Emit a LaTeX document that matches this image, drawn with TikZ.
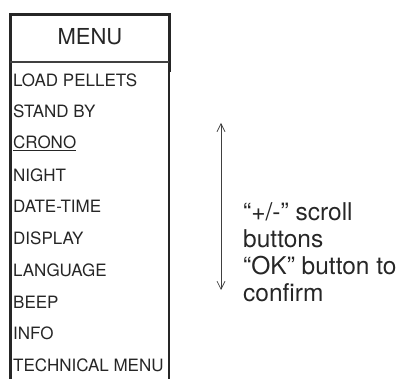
\documentclass[tikz,border=0pt]{standalone}
\usepackage{fontspec}
\setmainfont{TeX Gyre Heros}
\usetikzlibrary{arrows.meta,positioning}

\tikzset{
  menuitem/.style={anchor=west, inner sep=0pt, text=black!85, font=\fontsize{17}{20}\selectfont},
  scrollarrow/.style={{Straight Barb[length=8pt,width=8pt]}-{Straight Barb[length=8pt,width=8pt]}, black!75, line width=0.7pt}
}

\begin{document}
\begin{tikzpicture}[x=1pt,y=-1pt]
\useasboundingbox (0,0) rectangle (413,379);

% menu frame
\draw[line width=3pt, black!85] (10,379) -- (10,15) -- (169,15) -- (169,72);
\draw[line width=1.8pt, black!85] (169,72) -- (169,379);
\draw[line width=2pt, black!75] (10,62) -- (169,62);
\node[font=\fontsize{22}{24}\selectfont, text=black!85] (menu) at (90,37) {MENU};

% entries
\foreach \t [count=\i] in {LOAD PELLETS, STAND BY, {\underline{CRONO}}, NIGHT, DATE-TIME, DISPLAY, LANGUAGE, BEEP, INFO, TECHNICAL MENU}
  \node[menuitem] (item\i) at (13,48.3+31.7*\i) {\t};

% scroll arrow and note
\coordinate (up) at (221,123);
\coordinate (down) at (221,290);
\draw[scrollarrow] (down) -- (up);
\node[anchor=west, align=left, inner sep=0pt, text=black!85, font=\fontsize{24.5}{27}\selectfont] (note) at (243,252)
  {``+/-'' scroll\\buttons\\``OK'' button to\\confirm};

\end{tikzpicture}
\end{document}
